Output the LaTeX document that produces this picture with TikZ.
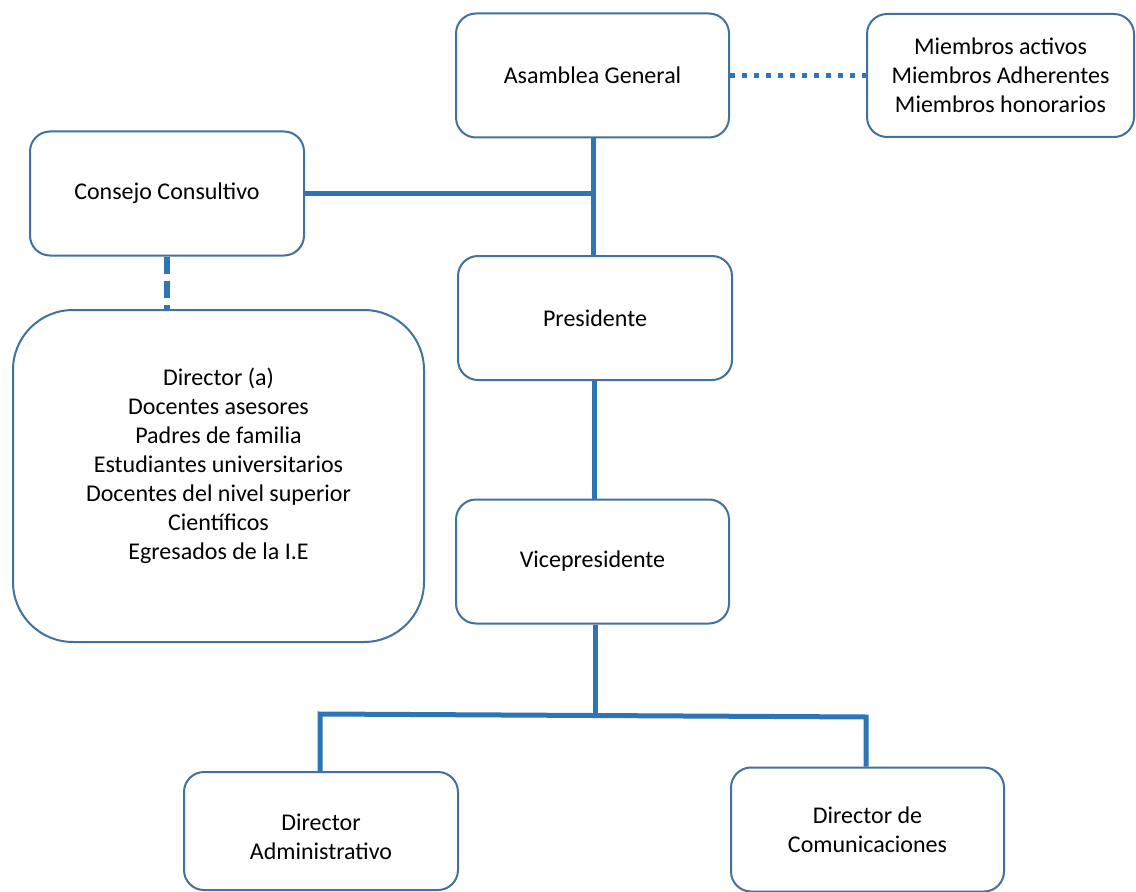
\documentclass[tikz,border=0pt]{standalone}
\usepackage{fontspec}
\setmainfont{Carlito}
\definecolor{boxc}{HTML}{41719C}
\definecolor{linec}{HTML}{2E75B6}
\begin{document}
\begin{tikzpicture}[x=0.75pt,y=-0.75pt,
  box/.style={draw=boxc, line width=1.5pt, rounded corners=15pt, fill=white, inner sep=0pt, align=center,
    font=\fontsize{18}{21.75}\selectfont, text=black},
  conn/.style={draw=linec, line width=3.75pt},
  dotline/.style={draw=linec, line width=3.75pt, dash pattern=on 3.75pt off 5.25pt},
  dashline/.style={draw=linec, line width=4.5pt, dash pattern=on 13pt off 5.25pt}]
\useasboundingbox (0,0) rectangle (1136,892);
\coordinate (j) at (596,715);
\coordinate (L) at (320,714);
\coordinate (R) at (866,717);
\node[box, minimum width=204.75pt, minimum height=93pt] (asam) at (592.5,75.5) {Asamblea General};
\node[box, minimum width=200.25pt, minimum height=92.25pt] (miem) at (1000.5,75.5) {Miembros activos\\Miembros Adherentes\\Miembros honorarios};
\node[box, minimum width=205.5pt, minimum height=93pt] (cons) at (167,193.5) {Consejo Consultivo};
\node[box, rounded corners=45pt, minimum width=308.25pt, minimum height=249pt] (big) at (218.5,476)
  {Director (a)\\Docentes asesores\\Padres de familia\\Estudiantes universitarios\\Docentes del nivel superior\\Científicos\\Egresados de la I.E\\[-3.75pt]};
\node[box, minimum width=205.5pt, minimum height=93pt] (pres) at (595,318) {Presidente};
\node[box, minimum width=204.75pt, minimum height=93pt] (vice) at (592.5,561.5) {Vicepresidente};
\node[box, minimum width=205.5pt, minimum height=88.5pt] (dadm) at (321,831) {\\Director\\Administrativo};
\node[box, minimum width=204.75pt, minimum height=93pt] (dcom) at (867.5,829.5) {Director de\\Comunicaciones};
\coordinate (t) at ([xshift=1.1pt]asam.south);
\coordinate (pv) at ([xshift=-0.75pt]pres.south);
\coordinate (vj) at ([xshift=2.6pt]vice.south);
\draw[conn] (t) -- (t |- pres.north);
\draw[conn] (cons.east) -- (cons.east -| t);
\draw[conn] (pv) -- (pv |- vice.north);
\draw[conn] (vj) -- (vj |- j);
\draw[conn, line join=miter] (L |- dadm.north) -- (L) -- (R) -- (R |- dcom.north);
\draw[dotline] (asam.east) -- (miem.west);
\draw[dashline] (cons.south) -- (cons.south |- big.north);
\end{tikzpicture}
\end{document}
